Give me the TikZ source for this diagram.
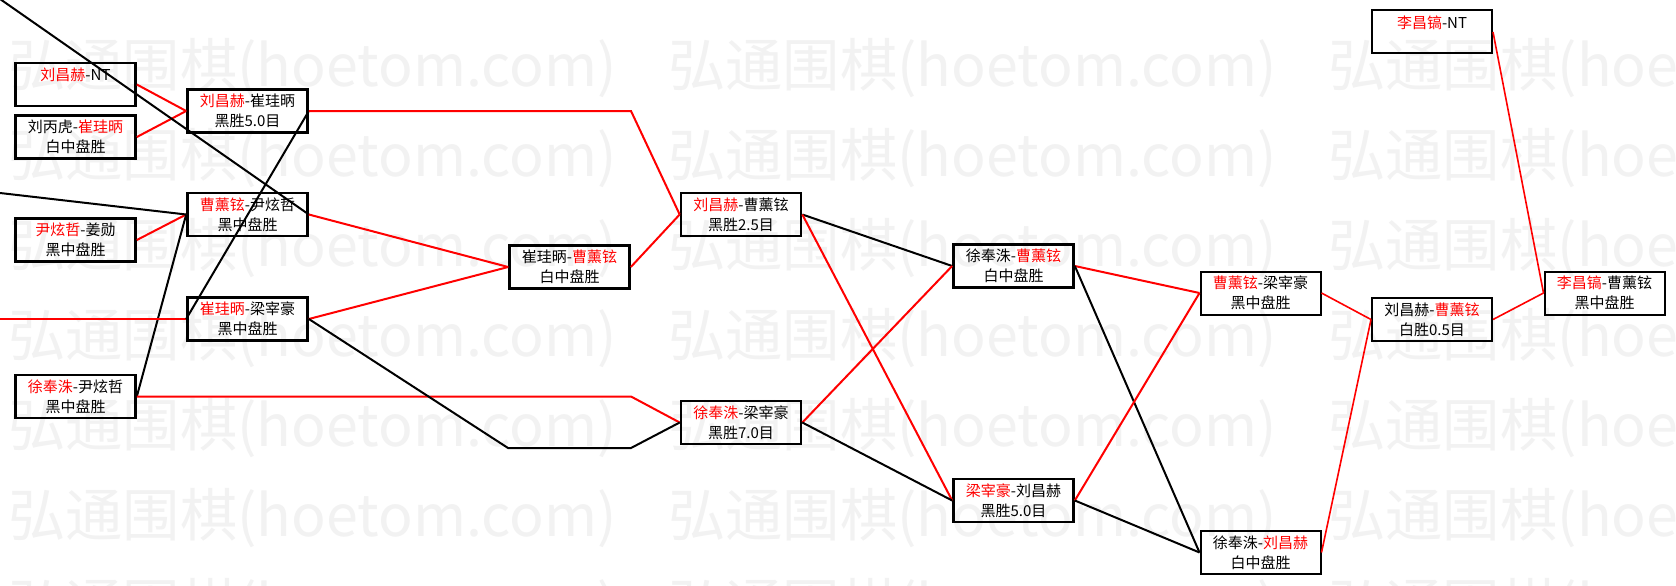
\documentclass[tikz,border=0pt]{standalone}
\usepackage{fontspec}
\setmainfont{Noto Sans CJK SC}
\newcommand\rd[1]{\textcolor{red}{#1}}
\begin{document}
\begin{tikzpicture}[x=0.75pt,y=-0.75pt,
  box/.style={draw=black, line width=2pt, minimum width=90pt, minimum height=32.25pt,
    inner sep=0pt, align=center, font=\fontsize{11.25}{15}\selectfont},
  rbox/.style={box, line width=1.5pt},
  win/.style={draw=red, line width=1.5pt},
  lose/.style={draw=black, line width=1.5pt},
  rwin/.style={draw=red, line width=1.2pt},
  rlose/.style={draw=black, line width=1.2pt},
  wm/.style={text=black!5, inner sep=0pt, anchor=west, font=\fontsize{43}{43}\selectfont}]
\useasboundingbox (0,0) rectangle (1676,585);
\fill[white] (0,0) rectangle (1676,585);
% watermark
\foreach \yy in {68,158,248,338,428,518,608}
  \foreach \xx in {8,668,1328}
    \node[wm] at (\xx,\yy) {弘通围棋(hoetom.com)};
% boxes
\node[box] (A) at (75.5,84.5) {\rd{刘昌赫}-NT\\ \mbox{}};
\node[box] (B) at (75.5,137) {刘丙虎-\rd{崔珪昞}\\ 白中盘胜};
\node[box] (C) at (75.5,240) {\rd{尹炫哲}-姜勋\\ 黑中盘胜};
\node[box] (D) at (75.5,396.5) {\rd{徐奉洙}-尹炫哲\\ 黑中盘胜};
\node[box] (E) at (247.5,111) {\rd{刘昌赫}-崔珪昞\\ 黑胜5.0目};
\node[box] (F) at (247.5,214.5) {\rd{曹薰铉}-尹炫哲\\ 黑中盘胜};
\node[box] (G) at (247.5,319) {\rd{崔珪昞}-梁宰豪\\ 黑中盘胜};
\node[box] (H) at (569.5,267) {崔珪昞-\rd{曹薰铉}\\ 白中盘胜};
\node[box] (I) at (741,214.5) {\rd{刘昌赫}-曹薰铉\\ 黑胜2.5目};
\node[box] (J) at (741,422.5) {\rd{徐奉洙}-梁宰豪\\ 黑胜7.0目};
\node[box] (K) at (1013.5,266) {徐奉洙-\rd{曹薰铉}\\ 白中盘胜};
\node[box] (L) at (1013.5,500.5) {\rd{梁宰豪}-刘昌赫\\ 黑胜5.0目};
\node[rbox] (M) at (1260.5,293) {\rd{曹薰铉}-梁宰豪\\ 黑中盘胜};
\node[rbox] (N) at (1260.5,552.5) {徐奉洙-\rd{刘昌赫}\\ 白中盘胜};
\node[rbox] (O) at (1432,319.5) {刘昌赫-\rd{曹薰铉}\\ 白胜0.5目};
\node[rbox] (P) at (1432,32) {\rd{李昌镐}-NT\\ \mbox{}};
\node[rbox] (Q) at (1604.5,293) {\rd{李昌镐}-曹薰铉\\ 黑中盘胜};
% free ends and bends
\coordinate (tl) at (0,-1);
\coordinate (l1) at (0,193);
\coordinate (l2) at (0,319);
\coordinate (b1) at (631,111);
\coordinate (b2) at (631,396.5);
\coordinate (b3) at (508,448);
\coordinate (b4) at (631,448);
% connectors, first round
\draw[win] (A.east) -- (E.west);
\draw[win] (B.east) -- (E.west);
\draw[win] (C.east) -- (F.west);
\draw[lose] (l1) -- (F.west);
\draw[lose] (D.east) -- (F.west);
\draw[win] (l2) -- (G.west);
\draw[lose] (tl) -- (F.east);
\draw[lose] (G.west) -- (E.east);
% second round
\draw[win] (E.east) -- (b1) -- (I.west);
\draw[win] (F.east) -- (H.west);
\draw[win] (G.east) -- (H.west);
\draw[win] (H.east) -- (I.west);
\draw[win] (D.east) -- (b2) -- (J.west);
\draw[lose] (G.east) -- (b3) -- (b4) -- (J.west);
% third round
\draw[lose] (I.east) -- (K.west);
\draw[win] (I.east) -- (L.west);
\draw[win] (J.east) -- (K.west);
\draw[lose] (J.east) -- (L.west);
\draw[win] (K.east) -- (M.west);
\draw[lose] (K.east) -- (N.west);
\draw[win] (L.east) -- (M.west);
\draw[lose] (L.east) -- (N.west);
% final rounds
\draw[rwin] (M.east) -- (O.west);
\draw[rwin] (N.east) -- (O.west);
\draw[rwin] (O.east) -- (Q.west);
\draw[rwin] (P.east) -- (Q.west);
\end{tikzpicture}
\end{document}
